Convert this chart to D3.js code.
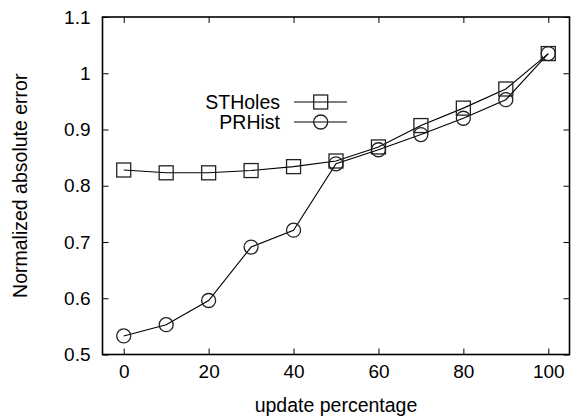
<!DOCTYPE html>
<html>
<head>
<meta charset="utf-8">
<script src="https://cdn.jsdelivr.net/npm/d3@7"></script>
<style>
  body { margin: 0; background: #fff; }
  text { font-family: "Liberation Sans", Arial, sans-serif; fill: #000; }
</style>
</head>
<body>
<div class="chart"></div>
<script>
var updates = [0, 10, 20, 30, 40, 50, 60, 70, 80, 90, 100];
var stholes = [0.828, 0.823, 0.823, 0.827, 0.834, 0.844, 0.869, 0.907, 0.938, 0.972, 1.035];
var prhist = [0.533, 0.553, 0.596, 0.691, 0.721, 0.839, 0.864, 0.891, 0.920, 0.953, 1.035];
var xTicks = [0, 20, 40, 60, 80, 100];
var yTicks = [0.5, 0.6, 0.7, 0.8, 0.9, 1.0, 1.1];

var margin = { top: 17, right: 1.5, bottom: 65.5, left: 102.5 };
var fullWidth = 571;
var fullHeight = 420;
var width = fullWidth - margin.left - margin.right;
var height = fullHeight - margin.top - margin.bottom;

var svg = d3
  .select(".chart")
  .append("svg")
  .attr("width", fullWidth)
  .attr("height", fullHeight)
  .append("g")
  .attr("transform", `translate(${margin.left}, ${margin.top})`);

var xScale = d3.scaleLinear().domain([-5, 105]).range([0, width]);
var yScale = d3.scaleLinear().domain([0.5, 1.1]).range([height, 0]);

var fmtY = d => (d === 1 ? "1" : d3.format(".1f")(d));

// inward ticks on all four sides, like gnuplot
function styleAxis(g) {
  g.select(".domain").remove();
  g.selectAll("line").attr("stroke", "#000").attr("stroke-width", 1);
  g.selectAll("text")
    .style("font-size", "19px")
    .attr("fill", "#000");
}

svg.append("g")
  .attr("transform", `translate(0, ${height})`)
  .call(d3.axisBottom(xScale).tickValues(xTicks).tickSize(-6).tickPadding(10))
  .call(styleAxis);

svg.append("g")
  .call(d3.axisTop(xScale).tickValues(xTicks).tickSize(-6).tickFormat(""))
  .call(styleAxis);

svg.append("g")
  .call(d3.axisLeft(yScale).tickValues(yTicks).tickSize(-6).tickPadding(12).tickFormat(fmtY))
  .call(styleAxis);

svg.append("g")
  .attr("transform", `translate(${width}, 0)`)
  .call(d3.axisRight(yScale).tickValues(yTicks).tickSize(-6).tickFormat(""))
  .call(styleAxis);

svg.append("rect")
  .attr("width", width)
  .attr("height", height)
  .attr("fill", "none")
  .attr("stroke", "#000")
  .attr("stroke-width", 1.6);

// axis titles
svg.append("text")
  .attr("x", xScale(50))
  .attr("y", height + 57)
  .attr("text-anchor", "middle")
  .style("font-size", "19.5px")
  .text("update percentage");

svg.append("text")
  .attr("transform", `translate(${-margin.left + 27}, ${yScale(0.8)}) rotate(-90)`)
  .attr("text-anchor", "middle")
  .style("font-size", "19.5px")
  .text("Normalized absolute error");

var line = d3.line()
  .x((d, i) => xScale(updates[i]))
  .y(d => yScale(d));

var series = [
  { name: "STHoles", values: stholes, shape: "square" },
  { name: "PRHist", values: prhist, shape: "circle" }
];

function drawMarker(g, shape, x, y) {
  if (shape === "square") {
    g.append("rect")
      .attr("x", x - 7)
      .attr("y", y - 7)
      .attr("width", 14)
      .attr("height", 14)
      .attr("fill", "none")
      .attr("stroke", "#222")
      .attr("stroke-width", 1.3);
  } else {
    g.append("circle")
      .attr("cx", x)
      .attr("cy", y)
      .attr("r", 7)
      .attr("fill", "none")
      .attr("stroke", "#222")
      .attr("stroke-width", 1.3);
  }
}

series.forEach(function(s) {
  svg.append("path")
    .datum(s.values)
    .attr("d", line)
    .attr("fill", "none")
    .attr("stroke", "#000")
    .attr("stroke-width", 1.1);
  var g = svg.append("g");
  s.values.forEach(function(v, i) {
    drawMarker(g, s.shape, xScale(updates[i]), yScale(v));
  });
});

// legend
var legend = svg.append("g").attr("transform", "translate(177.5, 85)");
series.forEach(function(s, i) {
  var row = legend.append("g").attr("transform", `translate(0, ${i * 20})`);
  row.append("text")
    .attr("x", 0)
    .attr("y", 6.5)
    .attr("text-anchor", "end")
    .style("font-size", "19.5px")
    .text(s.name);
  row.append("line")
    .attr("x1", 14)
    .attr("x2", 67)
    .attr("stroke", "#000")
    .attr("stroke-width", 1.1);
  drawMarker(row, s.shape, 40.7, 0);
});
</script>
</body>
</html>
